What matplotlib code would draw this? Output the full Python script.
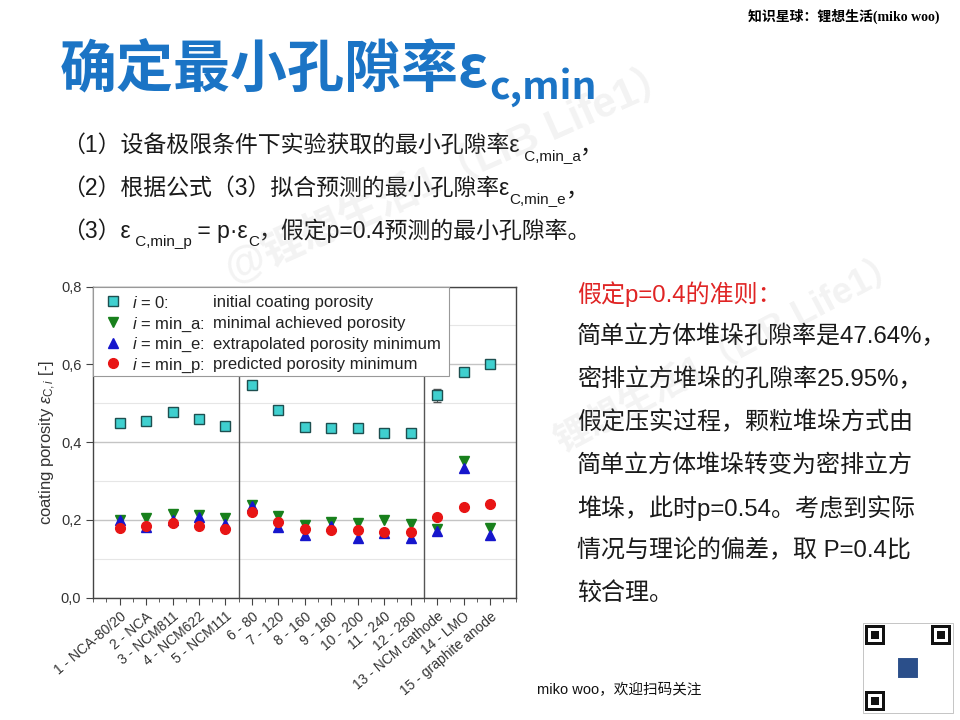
import matplotlib
matplotlib.use('Agg')
import matplotlib.pyplot as plt
from matplotlib.patches import Rectangle
from matplotlib.ticker import MultipleLocator, FuncFormatter
import numpy as np

# chart data
samples = ['1 - NCA-80/20', '2 - NCA', '3 - NCM811', '4 - NCM622', '5 - NCM111',
           '6 - 80', '7 - 120', '8 - 160', '9 - 180', '10 - 200', '11 - 240',
           '12 - 280', '13 - NCM cathode', '14 - LMO', '15 - graphite anode']
eps_initial = [0.448, 0.455, 0.478, 0.460, 0.442, 0.547, 0.482, 0.440, 0.436,
               0.435, 0.423, 0.424, 0.520, 0.581, 0.601]
err_initial = [0, 0, 0, 0, 0, 0, 0, 0, 0, 0, 0, 0, 0.016, 0, 0]
eps_min_a = [0.199, 0.204, 0.214, 0.213, 0.204, 0.238, 0.211, 0.187, 0.195,
             0.193, 0.200, 0.190, 0.176, 0.352, 0.178]
eps_min_e = [0.200, 0.181, 0.200, 0.207, 0.190, 0.236, 0.181, 0.160, 0.183,
             0.154, 0.165, 0.154, 0.171, 0.333, 0.160]
eps_min_p = [0.178, 0.183, 0.191, 0.184, 0.177, 0.220, 0.194, 0.177, 0.174,
             0.174, 0.169, 0.170, 0.208, 0.232, 0.240]
group_edges = [5.5, 12.5]

legend_keys = ['$i$ = 0:', '$i$ = min_a:', '$i$ = min_e:', '$i$ = min_p:']
legend_desc = ['initial coating porosity', 'minimal achieved porosity',
               'extrapolated porosity minimum', 'predicted porosity minimum']

# slide text
title_main = '确定最小孔隙率ε'
title_sub = 'c,min'
right_lines = ['假定p=0.4的准则：', '简单立方体堆垛孔隙率是47.64%，',
               '密排立方堆垛的孔隙率25.95%，', '假定压实过程，颗粒堆垛方式由',
               '简单立方体堆垛转变为密排立方', '堆垛，此时p=0.54。考虑到实际',
               '情况与理论的偏差，取 P=0.4比', '较合理。']

MIXED = ['Liberation Sans', 'Noto Sans CJK SC', 'DejaVu Sans']
plt.rcParams['font.family'] = MIXED
plt.rcParams['mathtext.fontset'] = 'custom'
plt.rcParams['mathtext.rm'] = 'Liberation Sans'
plt.rcParams['mathtext.it'] = 'Liberation Sans:italic'

fig = plt.figure(figsize=(9.6, 7.2), dpi=100)
fig.patch.set_facecolor('white')

# background axes in pixel coordinates for slide text
bg = fig.add_axes([0, 0, 1, 1])
bg.set_xlim(0, 960)
bg.set_ylim(720, 0)
bg.axis('off')


def run_text(parts, x, y, **kw):
    s, fs, dy = parts[0]
    first = bg.text(x, y, s, fontsize=fs, va='bottom', ha='left', **kw)
    prev = first
    for s, fs, dy in parts[1:]:
        prev = bg.annotate(s, xy=(1, 0), xycoords=(prev, first),
                           xytext=(0, dy), textcoords='offset points',
                           va='bottom', ha='left', fontsize=fs, **kw)
    return first


blue = '#1b74c5'
run_text([(title_main, 41, 0), (title_sub, 28, -6)], 60, 99,
         color=blue, weight='bold', family=['Noto Sans CJK SC', 'DejaVu Sans'])

run_text([('（1）设备极限条件下实验获取的最小孔隙率ε', 16.5, 0),
          (' C,min_a', 11, -4), ('，', 16.5, 0)], 62, 157, color='#1a1a1a')
run_text([('（2）根据公式（3）拟合预测的最小孔隙率ε', 16.5, 0),
          ('C,min_e', 11, -4), ('，', 16.5, 0)], 62, 200, color='#1a1a1a')
run_text([('（3）ε', 16.5, 0), (' C,min_p', 11, -4), (' = p·ε', 16.5, 0),
          ('C', 11, -4), ('，假定p=0.4预测的最小孔隙率。', 16.5, 0)],
         62, 243, color='#1a1a1a')

for k, line in enumerate(right_lines):
    bg.text(577, 294 + k * 42.8, line, fontsize=17.3, va='center', ha='left',
            color='#e02424' if k == 0 else '#1a1a1a')

bg.text(940, 16, '知识星球：锂想生活(miko woo)', fontsize=10, weight='bold',
        ha='right', va='center', family=['Liberation Serif', 'Noto Sans CJK SC'])
bg.text(537, 690, 'miko woo，欢迎扫码关注', fontsize=10.5, ha='left', va='center',
        color='#111111')

# QR code placeholder (frame + finder squares)
qx, qy, qs = 863, 623, 90
bg.add_patch(Rectangle((qx, qy), qs, qs, fc='white', ec='#bbbbbb', lw=0.6))
for fx, fy in [(qx + 2, qy + 2), (qx + qs - 22, qy + 2), (qx + 2, qy + qs - 22)]:
    bg.add_patch(Rectangle((fx, fy), 20, 20, fc='#111111', ec='none'))
    bg.add_patch(Rectangle((fx + 3, fy + 3), 14, 14, fc='white', ec='none'))
    bg.add_patch(Rectangle((fx + 6, fy + 6), 8, 8, fc='#111111', ec='none'))
bg.add_patch(Rectangle((qx + 34, qy + 34), 22, 22, fc='#2b4f8a', ec='white', lw=1.5))

# chart
ax = fig.add_axes([0.097, 0.170, 0.441, 0.432])
ax.set_facecolor('none')
x = np.arange(1, len(samples) + 1)
err = np.array(err_initial)
has_err = err > 0
ax.errorbar(x[has_err], np.array(eps_initial)[has_err], yerr=err[has_err],
            fmt='none', ecolor='#555555', elinewidth=0.8, capsize=3, zorder=3)

styles = [dict(marker='s', ms=6.5, mfc='#3fd0cf', mec='#1e4f50', mew=1.0),
          dict(marker='v', ms=7.5, color='#18801c'),
          dict(marker='^', ms=7.5, color='#1616cc'),
          dict(marker='o', ms=7, color='#e81515')]
series = [eps_initial, eps_min_a, eps_min_e, eps_min_p]
for k, (vals, st) in enumerate(zip(series, styles)):
    ax.plot(x, vals, linestyle='none', zorder=4 + k, **st)

for g in group_edges:
    ax.axvline(g, color='#555555', lw=1.0, zorder=2)

ax.set_xlim(0, 16)
ax.set_ylim(0, 0.8)
ax.set_xticks(x)
ax.set_xticklabels(samples, rotation=40, ha='right', rotation_mode='anchor',
                   fontsize=10, color='#333333')
ax.xaxis.set_minor_locator(MultipleLocator(0.5))
ax.yaxis.set_major_locator(MultipleLocator(0.2))
ax.yaxis.set_minor_locator(MultipleLocator(0.1))
ax.yaxis.set_major_formatter(FuncFormatter(lambda v, p: f'{v:.1f}'.replace('.', ',')))
ax.tick_params(axis='y', which='major', labelsize=10.5, labelcolor='#333333',
               length=5, color='#444444')
ax.tick_params(axis='y', which='minor', length=0)
ax.tick_params(axis='x', which='major', length=5, color='#444444')
ax.tick_params(axis='x', which='minor', length=3, color='#444444')
ax.grid(axis='y', which='major', color='#c4c4c4', lw=1.0)
ax.grid(axis='y', which='minor', color='#e6e6e6', lw=0.8)
ax.set_axisbelow(True)
for sp in ax.spines.values():
    sp.set_color('#444444')
    sp.set_linewidth(1.0)
ax.set_ylabel(r'coating porosity $\varepsilon_{\mathrm{C},i}$ [-]', fontsize=12,
              color='#333333', labelpad=2)

# legend box drawn by hand so both text columns line up
ax.add_patch(Rectangle((0, 0.711), 0.840, 0.289, transform=ax.transAxes,
                       fc='white', ec='#999999', lw=0.8, zorder=10, clip_on=False))
for k, (key, desc, st) in enumerate(zip(legend_keys, legend_desc, styles)):
    yc = 0.952 - k * 0.066
    ax.plot([0.046], [yc], transform=ax.transAxes, linestyle='none',
            zorder=11, clip_on=False, **st)
    ax.text(0.091, yc, key, transform=ax.transAxes, fontsize=12,
            va='center_baseline', ha='left', color='#222222', zorder=11)
    ax.text(0.282, yc, desc, transform=ax.transAxes, fontsize=12,
            va='center_baseline', ha='left', color='#222222', zorder=11)

# faint watermarks
fig.text(0.47, 0.76, '@锂想生活1（LiB Life1）', rotation=24, fontsize=30,
         color='#999999', alpha=0.12, ha='center', va='center', weight='bold')
fig.text(0.76, 0.51, '锂想生活1（LiB Life1）', rotation=28, fontsize=26,
         color='#999999', alpha=0.12, ha='center', va='center', weight='bold')

fig.savefig('out.png', dpi=100)
